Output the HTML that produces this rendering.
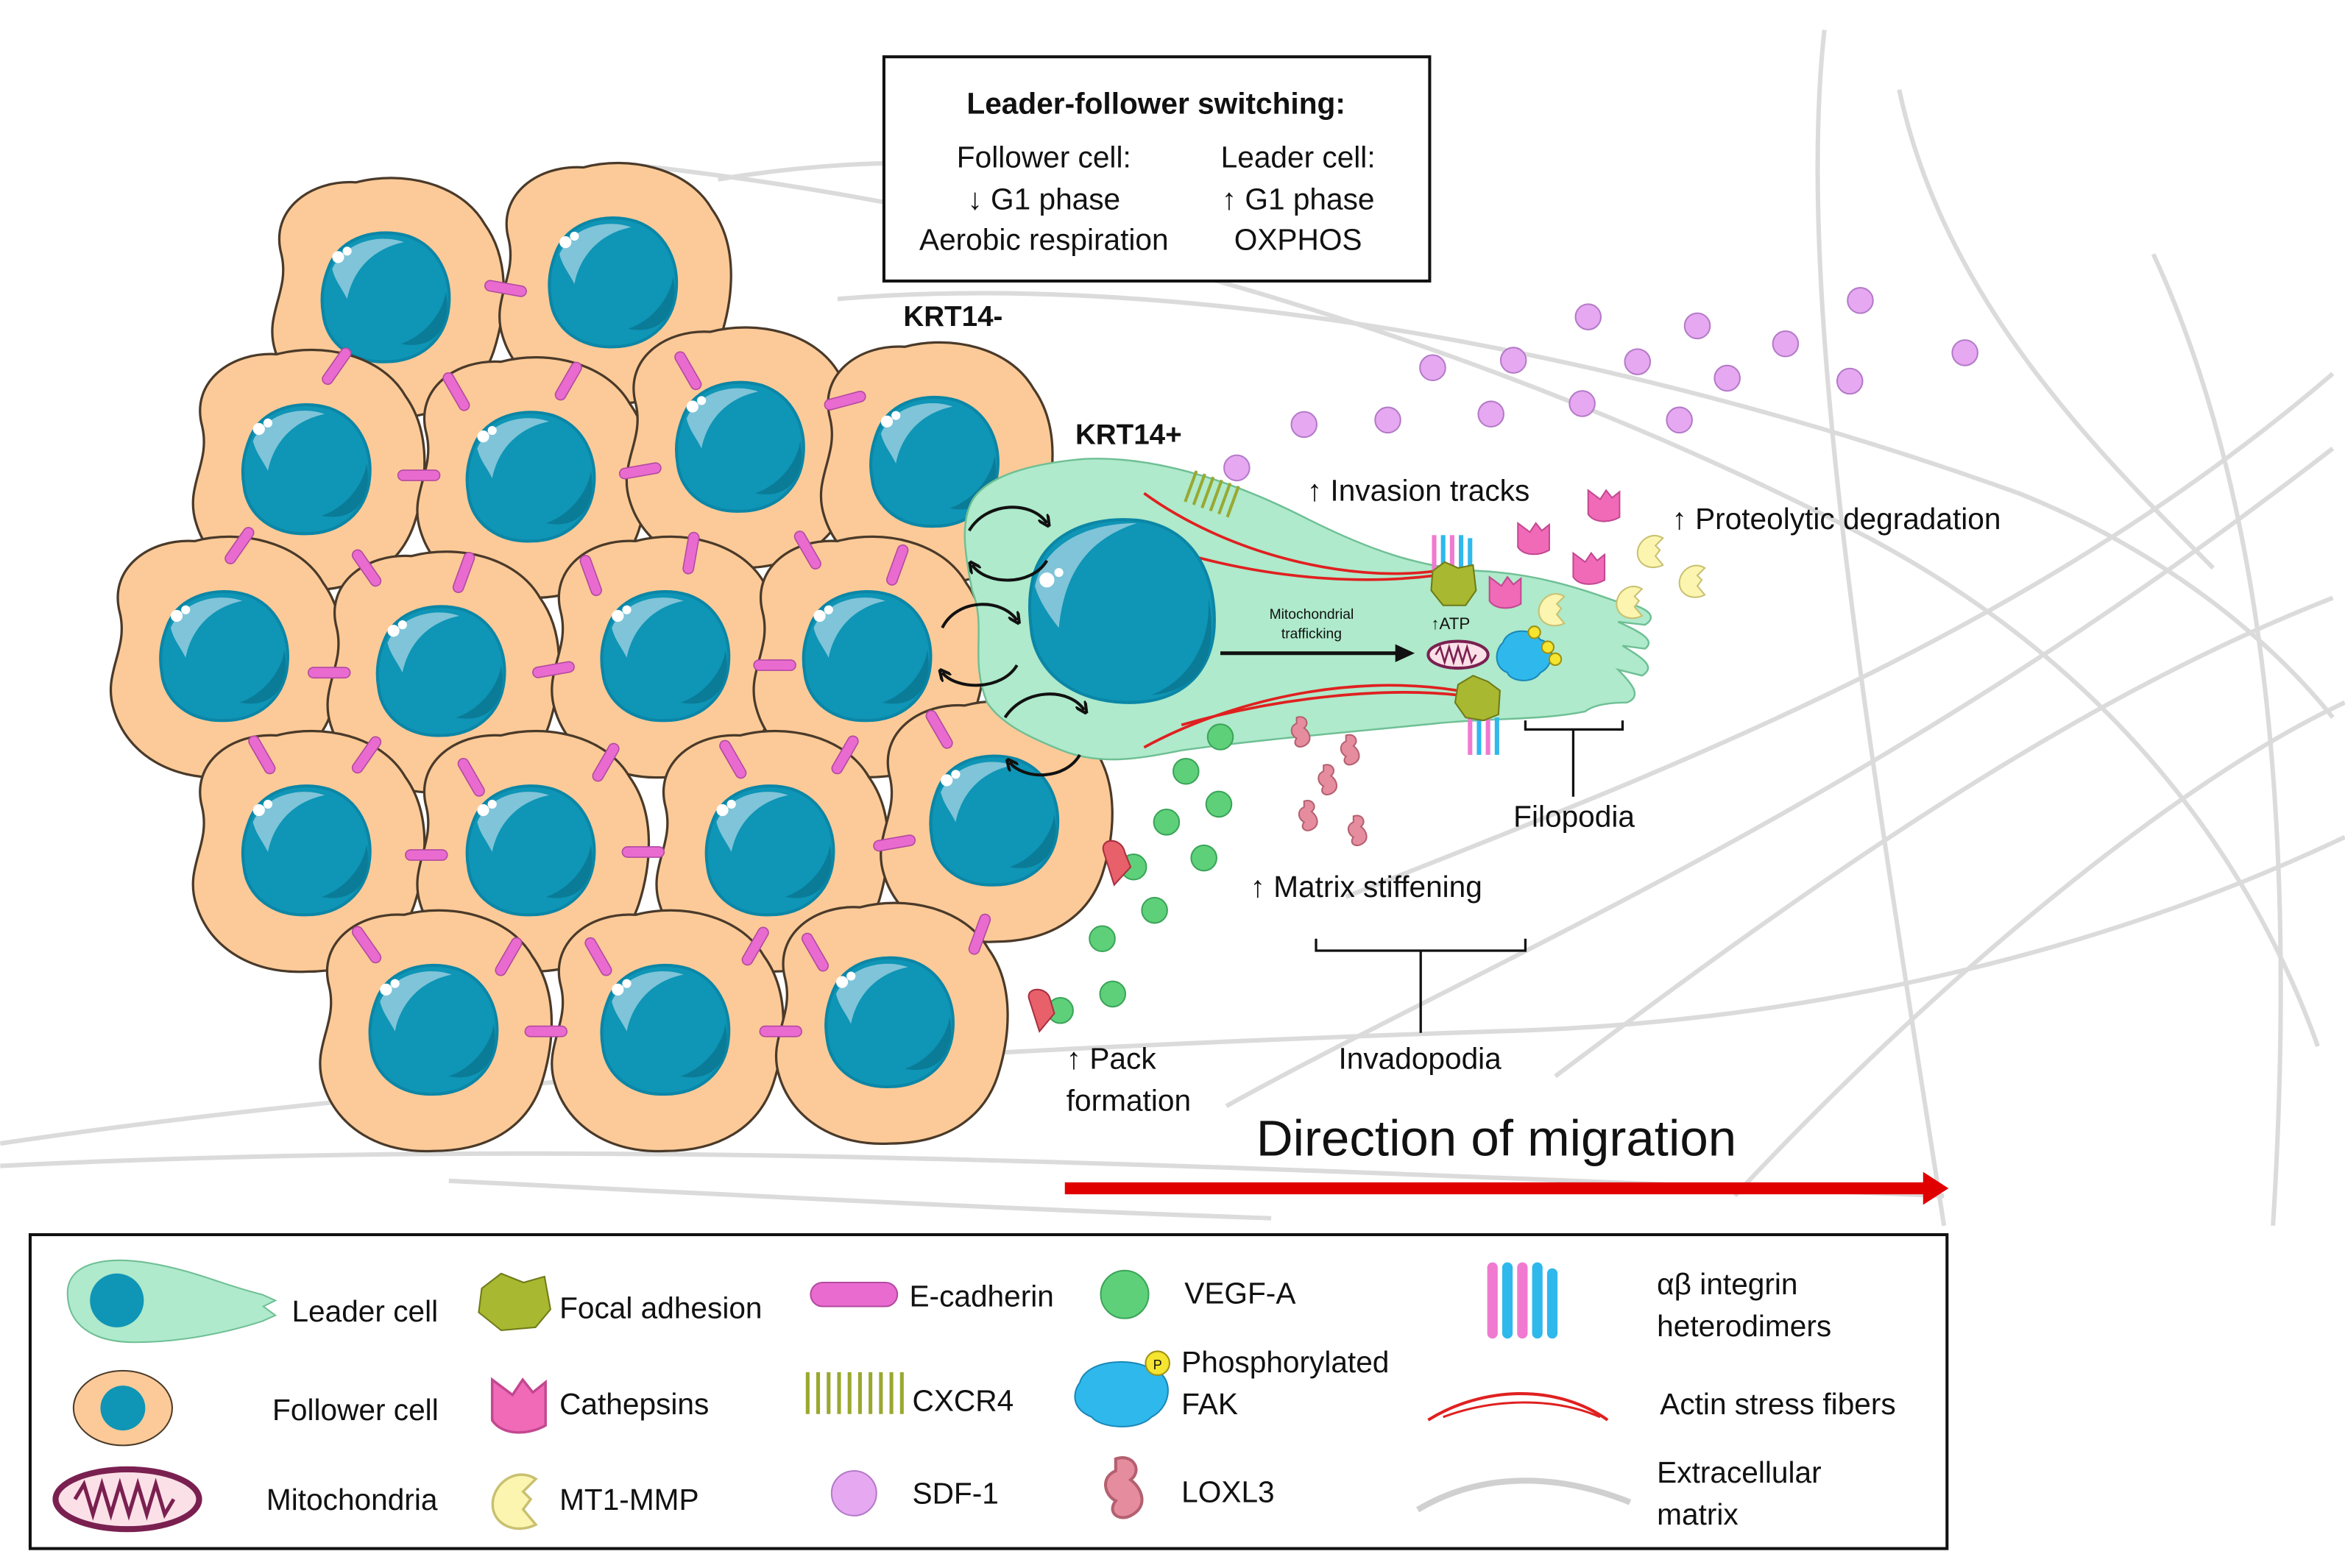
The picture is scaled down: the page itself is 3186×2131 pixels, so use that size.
<!DOCTYPE html>
<html><head><meta charset="utf-8"><style>
html,body{margin:0;padding:0;background:#fff}
svg{display:block}
text{font-family:"Liberation Sans",Arial,sans-serif;fill:#111}
</style></head><body>
<svg width="3186" height="2131" viewBox="0 0 1568 1049" xmlns="http://www.w3.org/2000/svg">
<defs>
<marker id="ah" markerWidth="8" markerHeight="8" refX="5" refY="4" orient="auto" markerUnits="userSpaceOnUse"><path d="M0,0 L8,4 L0,8" fill="none" stroke="#111" stroke-width="2"/></marker>
<g id="fc">
<path d="M-70,-30 C-78,-60 -50,-80 -20,-78 C10,-86 50,-78 66,-50 C84,-25 80,10 72,35 C62,65 35,80 0,80 C-35,82 -65,65 -74,35 C-82,10 -64,-5 -70,-30Z" fill="#fcca98" stroke="#4a3a2a" stroke-width="1.6"/>
<path d="M-38,-22 C-30,-42 -5,-48 15,-42 C35,-35 44,-15 42,5 C40,28 22,42 0,42 C-22,43 -40,30 -42,10 C-44,-2 -42,-12 -38,-22Z" fill="#0f95b6" stroke="#0b86a6" stroke-width="2"/>
<path d="M-36,-20 C-28,-38 -5,-44 12,-38 C-8,-34 -22,-20 -26,0 C-30,-8 -34,-12 -36,-20Z" fill="#7fc4d8"/>
<path d="M10,30 C25,25 38,10 40,-5 C44,15 35,35 10,30Z" fill="#0a7c98"/>
<circle cx="-32" cy="-28" r="4" fill="#fff"/><circle cx="-26" cy="-32" r="3" fill="#fff"/>
</g>
<g id="ec"><rect x="-14" y="-3.5" width="28" height="7" rx="3.5" fill="#e96bd0" stroke="#b44aa0" stroke-width="0.8"/></g>
<g id="sdf"><circle r="8.5" fill="#e6a8f0" stroke="#b47ac8" stroke-width="1"/></g>
<g id="veg"><circle r="8.5" fill="#5fd07a" stroke="#3aa458" stroke-width="1"/></g>
<g id="cat"><path d="M-10,-10 L-2,-4 L2,-10 L6,-5 L11,-9 L11,8 C4,12 -6,12 -10,6Z" fill="#f06ab8" stroke="#c24890" stroke-width="1"/></g>
<g id="mmp"><path d="M6,-8 C-2,-13 -11,-6 -11,2 C-11,10 -2,14 6,10 L1,4 L4,0 L1,-3Z" fill="#fbf5b0" stroke="#c9c070" stroke-width="1"/></g>
<g id="lox"><path d="M-3,-10 C3,-12 6,-6 2,-3 C6,0 8,6 2,9 C-2,11 -6,8 -3,4 C-7,2 -8,-4 -3,-6Z" fill="#e58d9e" stroke="#b46070" stroke-width="1"/></g>
</defs>

<g fill="none" stroke="#d8d8d8" stroke-width="3" opacity="0.9">
<path d="M0,765 C300,720 700,700 1000,690 C1200,685 1400,640 1568,560"/>
<path d="M0,780 C400,760 800,780 1300,800"/>
<path d="M420,110 C700,140 1000,230 1250,360 C1400,440 1500,560 1550,700"/>
<path d="M560,200 C800,180 1100,240 1350,330 C1450,370 1520,430 1560,480"/>
<path d="M1220,20 C1200,200 1250,500 1300,820"/>
<path d="M1440,170 C1500,300 1540,500 1520,820"/>
<path d="M900,600 C1100,520 1350,430 1560,250"/>
<path d="M1040,720 C1200,600 1380,470 1560,400"/>
<path d="M1160,800 C1300,650 1460,520 1568,470"/>
<path d="M1270,60 C1300,200 1400,300 1480,380"/>
<path d="M820,740 C1000,640 1250,540 1560,300"/>
<path d="M480,120 C600,100 700,110 760,130"/>
<path d="M300,790 C500,800 700,810 850,815"/>
</g>

<use href="#fc" x="258" y="200"/><use href="#fc" x="410" y="190"/>
<use href="#fc" x="205" y="315"/><use href="#fc" x="355" y="320"/><use href="#fc" x="495" y="300"/><use href="#fc" x="625" y="310"/>
<use href="#fc" x="150" y="440"/><use href="#fc" x="295" y="450"/><use href="#fc" x="445" y="440"/><use href="#fc" x="580" y="440"/>
<use href="#fc" x="205" y="570"/><use href="#fc" x="355" y="570"/><use href="#fc" x="515" y="570"/><use href="#fc" x="665" y="550"/>
<use href="#fc" x="290" y="690"/><use href="#fc" x="445" y="690"/><use href="#fc" x="595" y="685"/>

<g>
<use href="#ec" transform="translate(338,193) rotate(10)"/>
<use href="#ec" transform="translate(225,245) rotate(-55)"/>
<use href="#ec" transform="translate(305,262) rotate(60)"/>
<use href="#ec" transform="translate(380,255) rotate(-60)"/>
<use href="#ec" transform="translate(460,248) rotate(60)"/>
<use href="#ec" transform="translate(280,318) rotate(0)"/>
<use href="#ec" transform="translate(428,315) rotate(-10)"/>
<use href="#ec" transform="translate(565,268) rotate(-15)"/>
<use href="#ec" transform="translate(160,365) rotate(-55)"/>
<use href="#ec" transform="translate(245,380) rotate(55)"/>
<use href="#ec" transform="translate(310,383) rotate(-70)"/>
<use href="#ec" transform="translate(395,385) rotate(70)"/>
<use href="#ec" transform="translate(462,370) rotate(-80)"/>
<use href="#ec" transform="translate(540,368) rotate(60)"/>
<use href="#ec" transform="translate(600,378) rotate(-70)"/>
<use href="#ec" transform="translate(220,450) rotate(0)"/>
<use href="#ec" transform="translate(370,448) rotate(-10)"/>
<use href="#ec" transform="translate(518,445) rotate(0)"/>
<use href="#ec" transform="translate(175,505) rotate(60)"/>
<use href="#ec" transform="translate(245,505) rotate(-55)"/>
<use href="#ec" transform="translate(315,520) rotate(60)"/>
<use href="#ec" transform="translate(405,510) rotate(-60)"/>
<use href="#ec" transform="translate(490,508) rotate(60)"/>
<use href="#ec" transform="translate(565,505) rotate(-60)"/>
<use href="#ec" transform="translate(628,488) rotate(60)"/>
<use href="#ec" transform="translate(285,572) rotate(0)"/>
<use href="#ec" transform="translate(430,570) rotate(0)"/>
<use href="#ec" transform="translate(598,564) rotate(-10)"/>
<use href="#ec" transform="translate(245,632) rotate(55)"/>
<use href="#ec" transform="translate(340,640) rotate(-60)"/>
<use href="#ec" transform="translate(400,640) rotate(60)"/>
<use href="#ec" transform="translate(505,633) rotate(-60)"/>
<use href="#ec" transform="translate(545,637) rotate(60)"/>
<use href="#ec" transform="translate(655,625) rotate(-70)"/>
<use href="#ec" transform="translate(365,690) rotate(0)"/>
<use href="#ec" transform="translate(522,690) rotate(0)"/>
</g>

<path d="M650,335 C660,318 690,310 725,307 C770,305 820,320 870,345 C915,368 950,380 990,382 C1030,384 1060,395 1080,402 C1100,405 1110,412 1100,418 L1082,416 C1095,422 1108,428 1100,434 L1085,432 C1098,440 1108,446 1098,452 L1082,448 C1092,458 1098,466 1088,470 C1075,470 1065,472 1060,476 C1030,482 1000,480 960,484 C900,490 840,495 790,502 C760,508 735,512 710,502 C690,494 670,485 660,470 C648,440 660,420 650,395 C645,370 642,350 650,335Z" fill="#aeeacb" stroke="#6fbf95" stroke-width="1.2"/>
<g stroke="#e02020" stroke-width="1.8" fill="none">
<path d="M765,330 C820,370 900,390 960,382"/>
<path d="M790,370 C860,390 920,390 960,385"/>
<path d="M765,500 C820,470 900,450 975,462"/>
<path d="M790,485 C860,465 930,460 975,465"/>
</g>
<path d="M690,390 C695,360 725,345 760,348 C795,352 812,380 812,415 C812,450 790,470 755,470 C720,470 695,452 690,425 C688,410 688,400 690,390Z" fill="#0f95b6" stroke="#0b86a6" stroke-width="2"/>
<path d="M692,392 C698,365 725,350 760,350 C730,360 712,380 708,420 C700,410 694,400 692,392Z" fill="#7fc4d8"/>
<path d="M770,465 C795,455 810,430 808,400 C815,435 805,462 770,465Z" fill="#0a7c98"/>
<circle cx="700" cy="388" r="5" fill="#fff"/><circle cx="708" cy="383" r="3" fill="#fff"/>
<line x1="816" y1="437" x2="935" y2="437" stroke="#111" stroke-width="2.5"/>
<polygon points="933,431 946,437 933,443" fill="#111"/>
<text x="877" y="414" font-size="9.5" text-anchor="middle" fill="#333">Mitochondrial</text>
<text x="877" y="427" font-size="9.5" text-anchor="middle" fill="#333">trafficking</text>
<text x="970" y="421" font-size="11" text-anchor="middle" fill="#333">↑ATP</text>
<ellipse cx="975" cy="438" rx="20" ry="9" fill="#fbe0e8" stroke="#7a2050" stroke-width="2"/>
<path d="M960,438 l3,-5 l3,10 l3,-10 l3,10 l3,-10 l3,10 l3,-10 l3,10 l3,-5" stroke="#7a2050" stroke-width="1.3" fill="none"/>
<path d="M1005,430 C1008,420 1025,420 1030,428 C1040,430 1040,445 1030,450 C1025,458 1010,456 1008,450 C998,446 1000,434 1005,430Z" fill="#2fb8ec" stroke="#1a88b8" stroke-width="1"/>
<circle cx="1026" cy="423" r="4" fill="#f5e430" stroke="#a09010"/><circle cx="1035" cy="433" r="4" fill="#f5e430" stroke="#a09010"/><circle cx="1040" cy="441" r="4" fill="#f5e430" stroke="#a09010"/>
<g stroke-width="3" fill="none">
<line x1="959" y1="358" x2="959" y2="385" stroke="#f07ad0"/><line x1="965" y1="358" x2="965" y2="385" stroke="#2fb8ec"/>
<line x1="971" y1="358" x2="971" y2="385" stroke="#f07ad0"/><line x1="977" y1="358" x2="977" y2="385" stroke="#2fb8ec"/>
<line x1="983" y1="360" x2="983" y2="385" stroke="#2fb8ec"/>
<line x1="983" y1="480" x2="983" y2="505" stroke="#f07ad0"/><line x1="989" y1="480" x2="989" y2="505" stroke="#2fb8ec"/>
<line x1="995" y1="480" x2="995" y2="505" stroke="#f07ad0"/><line x1="1001" y1="480" x2="1001" y2="505" stroke="#2fb8ec"/>
</g>
<path d="M958,382 L966,376 L975,380 L985,378 L987,395 L980,405 L965,405 L957,395Z" fill="#a8b830" stroke="#6f7a18"/>
<path d="M975,458 L985,452 L995,456 L1003,462 L1002,478 L992,482 L980,480 L973,470Z" fill="#a8b830" stroke="#6f7a18"/>
<g stroke="#9aa830" stroke-width="2" fill="none" transform="translate(800,315) rotate(20)">
<path d="M0,0 v22 M6,0 v22 M12,0 v22 M18,0 v22 M24,0 v22 M30,0 v22"/>
</g>
<use href="#sdf" x="827" y="313"/>

<g stroke="#111" stroke-width="2" fill="none" marker-end="url(#ah)">
<path d="M648,355 C660,335 690,335 700,350"/><path d="M700,375 C690,392 660,392 650,378"/>
<path d="M630,420 C640,400 670,400 680,415"/><path d="M680,445 C670,462 640,462 630,450"/>
<path d="M672,480 C685,460 715,460 725,475"/><path d="M722,505 C712,522 685,522 675,510"/>
</g>

<g>
<use href="#sdf" x="1062" y="212"/><use href="#sdf" x="1135" y="218"/><use href="#sdf" x="1194" y="230"/><use href="#sdf" x="1244" y="201"/><use href="#sdf" x="1314" y="236"/>
<use href="#sdf" x="958" y="246"/><use href="#sdf" x="1012" y="241"/><use href="#sdf" x="1095" y="242"/><use href="#sdf" x="1155" y="253"/><use href="#sdf" x="1237" y="255"/>
<use href="#sdf" x="872" y="284"/><use href="#sdf" x="928" y="281"/><use href="#sdf" x="997" y="277"/><use href="#sdf" x="1058" y="270"/><use href="#sdf" x="1123" y="281"/>
</g>
<use href="#cat" x="1072" y="338"/><use href="#cat" x="1025" y="360"/><use href="#cat" x="1062" y="380"/><use href="#cat" x="1006" y="396"/>
<use href="#mmp" x="1106" y="368"/><use href="#mmp" x="1134" y="388"/><use href="#mmp" x="1092" y="402"/><use href="#mmp" x="1040" y="407"/>
<use href="#lox" x="870" y="490"/><use href="#lox" x="903" y="502"/><use href="#lox" x="888" y="522"/><use href="#lox" x="875" y="546"/><use href="#lox" x="908" y="556"/>
<use href="#veg" x="816" y="493"/><use href="#veg" x="793" y="516"/><use href="#veg" x="815" y="538"/><use href="#veg" x="780" y="550"/><use href="#veg" x="805" y="574"/><use href="#veg" x="758" y="580"/><use href="#veg" x="772" y="609"/><use href="#veg" x="737" y="628"/><use href="#veg" x="744" y="665"/><use href="#veg" x="709" y="676"/>
<path d="M738,570 C735,560 750,560 752,570 L756,580 L745,592 Z" fill="#e8606a" stroke="#a83040"/>
<path d="M688,668 C686,660 700,660 702,668 L705,678 L695,690 Z" fill="#e8606a" stroke="#a83040"/>

<text x="604" y="218" font-size="19" font-weight="bold">KRT14-</text>
<text x="719" y="297" font-size="19" font-weight="bold">KRT14+</text>
<text x="874" y="335" font-size="20">↑ Invasion tracks</text>
<text x="1118" y="354" font-size="20">↑ Proteolytic degradation</text>
<text x="836" y="600" font-size="20">↑ Matrix stiffening</text>
<text x="1012" y="553" font-size="20">Filopodia</text>
<text x="895" y="715" font-size="20">Invadopodia</text>
<text x="713" y="715" font-size="20">↑ Pack</text>
<text x="713" y="743" font-size="20">formation</text>
<g stroke="#111" stroke-width="1.6" fill="none">
<path d="M1020,482 v6 h65 v-6 M1052,488 v45"/>
<path d="M880,628 v8 h140 v-8 M950,636 v55"/>
</g>

<rect x="591" y="38" width="365" height="150" fill="#fff" stroke="#111" stroke-width="2"/>
<text x="773" y="76" font-size="20" font-weight="bold" text-anchor="middle">Leader-follower switching:</text>
<text x="698" y="112" font-size="20" text-anchor="middle">Follower cell:</text>
<text x="698" y="140" font-size="20" text-anchor="middle">↓ G1 phase</text>
<text x="698" y="167" font-size="20" text-anchor="middle">Aerobic respiration</text>
<text x="868" y="112" font-size="20" text-anchor="middle">Leader cell:</text>
<text x="868" y="140" font-size="20" text-anchor="middle">↑ G1 phase</text>
<text x="868" y="167" font-size="20" text-anchor="middle">OXPHOS</text>

<text x="840" y="773" font-size="34">Direction of migration</text>
<line x1="712" y1="795" x2="1288" y2="795" stroke="#e00000" stroke-width="8"/>
<polygon points="1286,784 1303,795 1286,806" fill="#e00000"/>

<rect x="20" y="826" width="1282" height="210" fill="#fff" stroke="#111" stroke-width="2"/>
<path d="M45,865 C45,845 70,840 100,845 C130,850 150,860 175,866 L184,870 L176,874 L184,880 L175,884 C150,892 120,898 90,898 C60,898 45,885 45,865Z" fill="#aeeacb" stroke="#6fbf95"/>
<circle cx="78" cy="870" r="18" fill="#0f95b6"/>
<text x="195" y="884" font-size="20">Leader cell</text>
<ellipse cx="82" cy="942" rx="33" ry="25" fill="#fcca98" stroke="#4a3a2a"/>
<circle cx="82" cy="942" r="15" fill="#0f95b6"/>
<text x="182" y="950" font-size="20">Follower cell</text>
<ellipse cx="85" cy="1003" rx="48" ry="20" fill="#fbe0e8" stroke="#7a2050" stroke-width="4"/>
<path d="M50,1003 l6,-10 l6,20 l6,-20 l6,20 l6,-20 l6,20 l6,-20 l6,20 l6,-20 l6,20 l6,-10" stroke="#7a2050" stroke-width="2.5" fill="none"/>
<text x="178" y="1010" font-size="20">Mitochondria</text>
<path d="M322,862 L335,852 L350,858 L364,854 L368,876 L358,888 L335,890 L320,878Z" fill="#a8b830" stroke="#6f7a18"/>
<text x="374" y="882" font-size="20">Focal adhesion</text>
<g transform="translate(346,940) scale(1.7)"><use href="#cat"/></g>
<text x="374" y="946" font-size="20">Cathepsins</text>
<g transform="translate(348,1003) scale(1.7)"><use href="#mmp"/></g>
<text x="374" y="1010" font-size="20">MT1-MMP</text>
<rect x="542" y="858" width="58" height="16" rx="8" fill="#e96bd0" stroke="#b44aa0"/>
<text x="608" y="874" font-size="20">E-cadherin</text>
<g stroke="#9aa830" stroke-width="2.5" fill="none"><path d="M540,918 v28 M547,918 v28 M554,918 v28 M561,918 v28 M568,918 v28 M575,918 v28 M582,918 v28 M589,918 v28 M596,918 v28 M603,918 v28"/></g>
<text x="610" y="944" font-size="20">CXCR4</text>
<circle cx="571" cy="999" r="15" fill="#e6a8f0" stroke="#b47ac8"/>
<text x="610" y="1006" font-size="20">SDF-1</text>
<circle cx="752" cy="866" r="16" fill="#5fd07a" stroke="#3aa458"/>
<text x="792" y="872" font-size="20">VEGF-A</text>
<path d="M722,925 C726,910 755,908 768,915 C785,918 785,940 770,948 C760,958 735,955 730,948 C715,942 718,930 722,925Z" fill="#2fb8ec" stroke="#1a88b8"/>
<circle cx="774" cy="912" r="8" fill="#f5e430" stroke="#a09010"/><text x="774" y="916" font-size="9" text-anchor="middle">P</text>
<text x="790" y="918" font-size="20">Phosphorylated</text>
<text x="790" y="946" font-size="20">FAK</text>
<g transform="translate(752,996) scale(2)"><use href="#lox"/></g>
<text x="790" y="1005" font-size="20">LOXL3</text>
<g stroke-width="7" stroke-linecap="round">
<line x1="998" y1="848" x2="998" y2="892" stroke="#f07ad0"/><line x1="1008" y1="848" x2="1008" y2="892" stroke="#2fb8ec"/>
<line x1="1018" y1="848" x2="1018" y2="892" stroke="#f07ad0"/><line x1="1028" y1="848" x2="1028" y2="892" stroke="#2fb8ec"/>
<line x1="1038" y1="852" x2="1038" y2="892" stroke="#2fb8ec"/>
</g>
<text x="1108" y="866" font-size="20">αβ integrin</text>
<text x="1108" y="894" font-size="20">heterodimers</text>
<path d="M955,950 C990,928 1040,925 1075,950" stroke="#e02020" stroke-width="2" fill="none"/>
<path d="M965,948 C1000,935 1040,935 1070,948" stroke="#e02020" stroke-width="1.5" fill="none"/>
<text x="1110" y="946" font-size="20">Actin stress fibers</text>
<path d="M948,1010 C990,985 1040,985 1090,1005" stroke="#d0d0d0" stroke-width="4" fill="none"/>
<text x="1108" y="992" font-size="20">Extracellular</text>
<text x="1108" y="1020" font-size="20">matrix</text>
</svg>
</body></html>
